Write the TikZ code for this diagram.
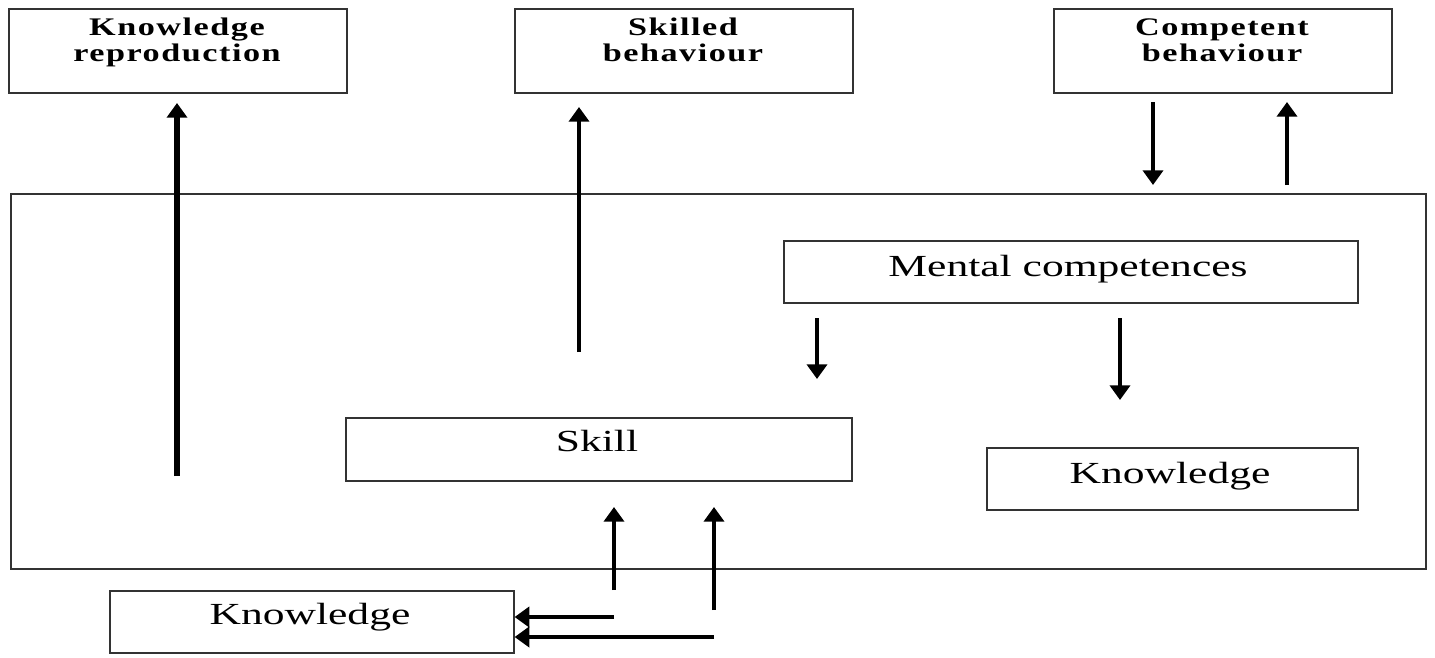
\documentclass[tikz,border=0pt]{standalone}
\usepackage{fontspec}
\setmainfont{Liberation Serif}
\newfontfamily\widefont[FakeStretch=1.42]{Liberation Serif}
\newfontfamily\widebold[FakeStretch=1.35,LetterSpace=6]{Liberation Serif Bold}
\usetikzlibrary{arrows.meta}
\begin{document}
\begin{tikzpicture}[x=0.75pt,y=-0.75pt,
  box/.style={draw=black!80,line width=1.5pt,inner sep=0pt,anchor=north west},
  lbl/.style={font=\widefont\fontsize{23}{26}\selectfont,anchor=base,inner sep=0pt},
  toplbl/.style={font=\widebold\fontsize{19}{21}\selectfont,anchor=base,inner sep=0pt,align=center},
  arr/.style={line width=3pt,-{Triangle[width=15pt,length=11pt]}},
  thickarr/.style={line width=4.5pt,-{Triangle[width=15pt,length=11pt]}}]
\useasboundingbox (0,0) rectangle (1435,657);
% top boxes
\node[box,minimum width=338*0.75pt,minimum height=84*0.75pt] (kr) at (8,8) {};
\node[box,minimum width=338*0.75pt,minimum height=84*0.75pt] (sb) at (514,8) {};
\node[box,minimum width=338*0.75pt,minimum height=84*0.75pt] (cb) at (1053,8) {};
\node[toplbl] (krt) at (177,35) {Knowledge};
\node[toplbl] at (177,61) {reproduction};
\node[toplbl] at (683,35) {Skilled};
\node[toplbl] at (683,61) {behaviour};
\node[toplbl] at (1222,35) {Competent};
\node[toplbl] at (1222,61) {behaviour};
% big box
\node[box,line width=1.2pt,minimum width=1415*0.75pt,minimum height=375*0.75pt] (big) at (10,193) {};
% inner boxes
\node[box,line width=1.2pt,minimum width=574*0.75pt,minimum height=62*0.75pt] (mc) at (783,240) {};
\node[lbl] at (1068,276) {Mental competences};
\node[box,line width=1.2pt,minimum width=506*0.75pt,minimum height=63*0.75pt] (sk) at (345,417) {};
\node[lbl] at (597,451) {Skill};
\node[box,line width=1.2pt,minimum width=371*0.75pt,minimum height=62*0.75pt] (kn) at (986,447) {};
\node[lbl] at (1170,483) {Knowledge};
\node[box,line width=1.2pt,minimum width=404*0.75pt,minimum height=62*0.75pt] (kb) at (109,590) {};
\node[lbl] at (310,624) {Knowledge};
% arrow coordinates
\coordinate (a1s) at (177,476); \coordinate (a1e) at (177,103);
\coordinate (a2s) at (579,352); \coordinate (a2e) at (579,107);
\coordinate (a3s) at (1153,102); \coordinate (a3e) at (1153,185);
\coordinate (a4s) at (1287,185); \coordinate (a4e) at (1287,102);
\coordinate (a5s) at (817,318); \coordinate (a5e) at (817,379);
\coordinate (a6s) at (1120,318); \coordinate (a6e) at (1120,400);
\coordinate (a7s) at (614,590); \coordinate (a7e) at (614,507);
\coordinate (a8s) at (714,610); \coordinate (a8e) at (714,507);
\coordinate (a9s) at (614,617);
\coordinate (a10s) at (714,637);
\draw[thickarr] (a1s) -- (a1e);
\draw[arr] (a2s) -- (a2e);
\draw[arr] (a3s) -- (a3e);
\draw[arr] (a4s) -- (a4e);
\draw[arr] (a5s) -- (a5e);
\draw[arr] (a6s) -- (a6e);
\draw[arr] (a7s) -- (a7e);
\draw[arr] (a8s) -- (a8e);
\draw[arr] (a9s) -- (a9s -| kb.east);
\draw[arr] (a10s) -- (a10s -| kb.east);
\end{tikzpicture}
\end{document}
